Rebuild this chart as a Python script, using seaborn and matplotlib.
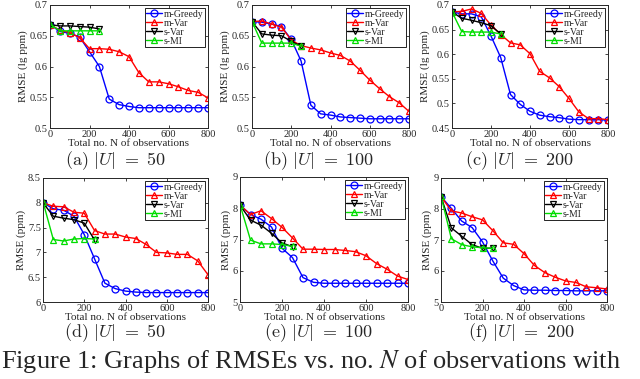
import numpy as np
import pandas as pd
import seaborn as sns
import matplotlib
matplotlib.use("Agg")
import matplotlib.pyplot as plt

# observation counts
n_full = [0, 50, 100, 150, 200, 250, 300, 350, 400, 450, 500, 550, 600, 650, 700, 750, 800]
n_short = [0, 50, 100, 150, 200, 250]

# (a) |U| = 50, lg ppm
a_greedy = [0.668, 0.657, 0.654, 0.648, 0.624, 0.600, 0.547, 0.538, 0.535, 0.533, 0.533, 0.533, 0.533, 0.533, 0.533, 0.533, 0.533]
a_mvar = [0.668, 0.659, 0.655, 0.647, 0.629, 0.629, 0.628, 0.624, 0.616, 0.590, 0.575, 0.575, 0.572, 0.567, 0.561, 0.558, 0.549]
a_svar = [0.668, 0.666, 0.666, 0.665, 0.664, 0.661]
a_smi = [0.669, 0.658, 0.658, 0.658, 0.658, 0.658]

# (b) |U| = 100, lg ppm
b_greedy = [0.673, 0.672, 0.669, 0.665, 0.644, 0.609, 0.537, 0.523, 0.521, 0.518, 0.517, 0.516, 0.515, 0.515, 0.515, 0.515, 0.515]
b_mvar = [0.673, 0.674, 0.669, 0.664, 0.643, 0.634, 0.630, 0.627, 0.622, 0.618, 0.609, 0.594, 0.578, 0.564, 0.551, 0.541, 0.527]
b_svar = [0.673, 0.653, 0.651, 0.650, 0.641, 0.633]
b_smi = [0.673, 0.638, 0.638, 0.638, 0.638, 0.633]

# (c) |U| = 200, lg ppm
c_greedy = [0.686, 0.682, 0.682, 0.676, 0.637, 0.593, 0.518, 0.498, 0.484, 0.476, 0.473, 0.471, 0.468, 0.467, 0.467, 0.467, 0.466]
c_mvar = [0.686, 0.687, 0.692, 0.683, 0.659, 0.640, 0.623, 0.619, 0.601, 0.565, 0.552, 0.534, 0.510, 0.483, 0.469, 0.469, 0.467]
c_svar = [0.686, 0.673, 0.669, 0.664, 0.658, 0.641]
c_smi = [0.686, 0.646, 0.645, 0.645, 0.645, 0.641]

# (d) |U| = 50, ppm
d_greedy = [8.00, 7.88, 7.85, 7.73, 7.36, 6.87, 6.38, 6.27, 6.22, 6.20, 6.19, 6.19, 6.19, 6.19, 6.19, 6.19, 6.19]
d_mvar = [8.00, 7.93, 7.92, 7.81, 7.79, 7.44, 7.37, 7.37, 7.31, 7.28, 7.16, 7.00, 6.99, 6.96, 6.96, 6.83, 6.55]
d_svar = [8.00, 7.73, 7.69, 7.66, 7.59, 7.25]
d_smi = [8.02, 7.26, 7.23, 7.27, 7.28, 7.27]

# (e) |U| = 100, ppm
e_greedy = [8.10, 7.80, 7.65, 7.40, 6.72, 6.42, 5.78, 5.63, 5.60, 5.60, 5.60, 5.60, 5.60, 5.60, 5.60, 5.60, 5.60]
e_mvar = [8.10, 7.80, 7.92, 7.67, 7.39, 7.05, 6.69, 6.69, 6.68, 6.68, 6.65, 6.61, 6.48, 6.23, 6.05, 5.83, 5.72]
e_svar = [8.10, 7.62, 7.46, 7.20, 6.89, 6.77]
e_smi = [8.12, 6.98, 6.86, 6.86, 6.84, 6.78]

# (f) |U| = 200, ppm
f_greedy = [8.40, 8.02, 7.61, 7.40, 6.94, 6.32, 5.77, 5.53, 5.39, 5.38, 5.38, 5.37, 5.37, 5.36, 5.36, 5.36, 5.36]
f_mvar = [8.40, 7.94, 7.87, 7.75, 7.65, 7.30, 6.91, 6.86, 6.56, 6.18, 5.95, 5.80, 5.68, 5.63, 5.49, 5.46, 5.42]
f_svar = [8.40, 7.39, 7.12, 6.85, 6.73, 6.74]
f_smi = [8.42, 7.04, 6.85, 6.78, 6.75, 6.73]

panels = [
    ("a", 50, [a_greedy, a_mvar, a_svar, a_smi], "RMSE (lg ppm)", [0.5, 0.55, 0.6, 0.65, 0.7], ["0.5", "0.55", "0.6", "0.65", "0.7"]),
    ("b", 100, [b_greedy, b_mvar, b_svar, b_smi], "RMSE (lg ppm)", [0.5, 0.55, 0.6, 0.65, 0.7], ["0.5", "0.55", "0.6", "0.65", "0.7"]),
    ("c", 200, [c_greedy, c_mvar, c_svar, c_smi], "RMSE (lg ppm)", [0.45, 0.5, 0.55, 0.6, 0.65, 0.7], ["0.45", "0.5", "0.55", "0.6", "0.65", "0.7"]),
    ("d", 50, [d_greedy, d_mvar, d_svar, d_smi], "RMSE (ppm)", [6, 6.5, 7, 7.5, 8, 8.5], ["6", "6.5", "7", "7.5", "8", "8.5"]),
    ("e", 100, [e_greedy, e_mvar, e_svar, e_smi], "RMSE (ppm)", [5, 6, 7, 8, 9], ["5", "6", "7", "8", "9"]),
    ("f", 200, [f_greedy, f_mvar, f_svar, f_smi], "RMSE (ppm)", [5, 6, 7, 8, 9], ["5", "6", "7", "8", "9"]),
]

series_names = ["m-Greedy", "m-Var", "s-Var", "s-MI"]
series_colors = ["#0000ff", "#ff0000", "#000000", "#00dd00"]
series_markers = ["o", "^", "v", "^"]

sns.set_style("ticks", {"xtick.direction": "in", "ytick.direction": "in"})
plt.rcParams["font.family"] = ["Liberation Serif", "DejaVu Serif"]
plt.rcParams["mathtext.fontset"] = "cm"

fig = plt.figure(figsize=(6.4, 3.79), dpi=100)
W, H = 640, 379

# axes boxes in pixels: left, right, top, bottom
boxes = [(50, 208, 5, 128), (252, 409, 5, 128), (452, 608, 5, 128),
         (43, 208, 178, 302), (240, 408, 177, 302), (441, 607, 178, 302)]
caption_pos = [(115, 161), (318, 161), (519, 161), (115, 333), (318, 333), (521, 333)]

for (letter, u, vals, ylab, yt, ytl), (l, r, t, b), (cx, cy) in zip(panels, boxes, caption_pos):
    ax = fig.add_axes([l / W, 1 - b / H, (r - l) / W, (b - t) / H])
    for name, col, mk, v in zip(series_names, series_colors, series_markers, vals):
        xs = n_full if len(v) == len(n_full) else n_short
        df = pd.DataFrame({"n": xs, "rmse": v})
        sns.lineplot(data=df, x="n", y="rmse", ax=ax, color=col, marker=mk,
                     markersize=5, markerfacecolor="none", markeredgecolor=col,
                     markeredgewidth=0.9, linewidth=1.0, label=name)
    ax.set_xlim(0, 800)
    ax.set_ylim(yt[0], yt[-1])
    ax.set_xticks([0, 200, 400, 600, 800])
    ax.set_yticks(yt)
    ax.set_yticklabels(ytl)
    ax.tick_params(labelsize=7.5, length=2.5, width=0.6, pad=1.5, top=True, right=True)
    for sp in ax.spines.values():
        sp.set_linewidth(0.7)
        sp.set_visible(True)
    ax.set_xlabel("Total no. N of observations", fontsize=8, labelpad=0)
    ax.set_ylabel(ylab, fontsize=8, labelpad=1)
    leg = ax.legend(loc="upper right", fontsize=7, frameon=True, fancybox=False,
                    edgecolor="black", framealpha=1, handlelength=1.6,
                    handletextpad=0.2, borderpad=0.15, labelspacing=0.0,
                    borderaxespad=0.35)
    leg.get_frame().set_linewidth(0.6)
    fig.text(cx / W, 1 - cy / H, r"$\mathrm{(%s)}\ |U|\ =\ %d$" % (letter, u),
             ha="center", va="center", fontsize=13)

fig.text(0.002, 1 - 368 / H, r"Figure 1: Graphs of RMSEs vs. no. $N$ of observations with",
         ha="left", va="baseline", fontsize=19, math_fontfamily="stix")

fig.savefig("out.png", dpi=100, facecolor="white")
